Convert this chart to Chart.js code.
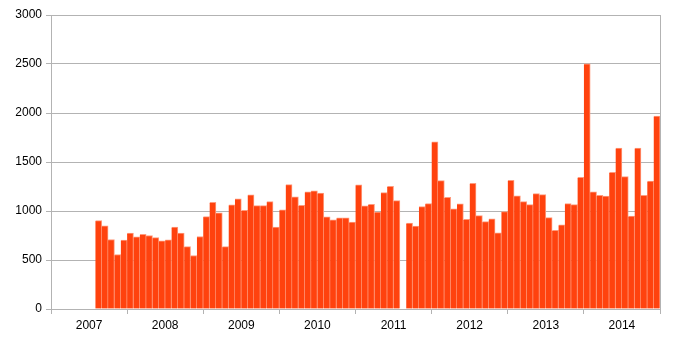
<!DOCTYPE html>
<html>
<head>
<meta charset="utf-8">
<script src="https://cdn.jsdelivr.net/npm/chart.js@4/dist/chart.umd.min.js"></script>
<style>
html,body{margin:0;padding:0;background:#fff;}
#wrap{width:674px;height:340px;position:relative;}
</style>
</head>
<body>
<div id="wrap"><canvas id="c" width="674" height="340"></canvas></div>
<script>
const years = ['2007','2008','2009','2010','2011','2012','2013','2014'];
const yTicks = [0, 500, 1000, 1500, 2000, 2500, 3000];
// monthly values (Jan..Dec) per year; null = no data
const v2007 = [null, null, null, null, null, null, null, 902, 848, 709, 556, 703];
const v2008 = [774, 736, 763, 750, 729, 695, 706, 835, 774, 637, 546, 740];
const v2009 = [943, 1088, 981, 637, 1062, 1123, 1008, 1164, 1055, 1055, 1096, 835];
const v2010 = [1011, 1269, 1144, 1059, 1195, 1205, 1184, 940, 909, 930, 930, 886];
const v2011 = [1268, 1054, 1067, 990, 1188, 1252, 1106, null, 876, 845, 1045, 1075];
const v2012 = [1707, 1310, 1140, 1021, 1072, 916, 1283, 953, 892, 920, 777, 994];
const v2013 = [1313, 1156, 1096, 1065, 1177, 1167, 933, 804, 858, 1075, 1065, 1344];
const v2014 = [2503, 1195, 1161, 1151, 1395, 1643, 1350, 947, 1643, 1161, 1306, 1968];

const yearValues = [v2007, v2008, v2009, v2010, v2011, v2012, v2013, v2014];
const monthLabels = [];
years.forEach(y => { for (let m = 1; m <= 12; m++) monthLabels.push(y + '-' + m); });
const values = [].concat(...yearValues);

const grey = '#b3b3b3';
const font = {family: '"Liberation Sans", Arial, sans-serif', size: 12};

new Chart(document.getElementById('c'), {
  type: 'bar',
  data: {
    labels: monthLabels,
    datasets: [{
      data: values,
      backgroundColor: '#ff420e',
      borderColor: '#ff9a7c',
      borderWidth: {top: 1, right: 1, left: 0, bottom: 0},
      borderSkipped: false,
      categoryPercentage: 1.0,
      barPercentage: 1.0,
      xAxisID: 'x',
      yAxisID: 'y'
    }]
  },
  options: {
    responsive: false,
    animation: false,
    devicePixelRatio: 1,
    layout: {padding: {left: 0, right: 14, top: 15, bottom: 0}},
    plugins: {legend: {display: false}, tooltip: {enabled: false}},
    scales: {
      x: {
        type: 'category',
        display: false,
        offset: true,
        grid: {display: false}
      },
      x2: {
        type: 'category',
        labels: years,
        position: 'bottom',
        offset: true,
        grid: {offset: true, drawOnChartArea: false, color: grey, tickLength: 5},
        border: {display: true, color: grey},
        ticks: {color: '#000', font: font, padding: 4, maxRotation: 0, autoSkip: false},
        afterFit: s => { s.height = 31; }
      },
      y: {
        min: 0, max: 3000,
        afterBuildTicks: s => { s.ticks = yTicks.map(v => ({value: v})); },
        grid: {color: grey, tickLength: 5},
        border: {display: true, color: grey},
        ticks: {color: '#000', font: font, padding: 4, callback: v => String(v)},
        afterFit: s => { s.width = 51; }
      },
      y2: {
        position: 'right',
        min: 0, max: 3000,
        grid: {drawOnChartArea: false, drawTicks: false},
        border: {display: true, color: grey},
        ticks: {display: false},
        afterFit: s => { s.width = 0; }
      }
    }
  }
});
</script>
</body>
</html>
